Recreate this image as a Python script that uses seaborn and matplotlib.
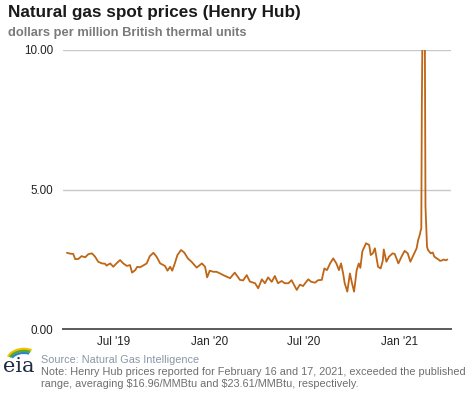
import matplotlib
matplotlib.use("Agg")
import matplotlib.pyplot as plt
from matplotlib.patches import Arc
import pandas as pd
import seaborn as sns

# ---- data ----
dates = [
    "2019-04-03", "2019-04-09", "2019-04-15", "2019-04-19", "2019-04-25", "2019-05-01",
    "2019-05-08", "2019-05-14", "2019-05-21", "2019-05-27", "2019-06-02", "2019-06-09",
    "2019-06-15", "2019-06-18", "2019-06-25", "2019-07-01", "2019-07-07", "2019-07-14",
    "2019-07-20", "2019-07-27", "2019-08-02", "2019-08-06", "2019-08-12", "2019-08-16",
    "2019-08-21", "2019-08-27", "2019-09-03", "2019-09-09", "2019-09-16", "2019-09-22",
    "2019-09-29", "2019-10-08", "2019-10-13", "2019-10-18", "2019-10-22", "2019-10-27",
    "2019-11-01", "2019-11-08", "2019-11-14", "2019-11-21", "2019-11-28", "2019-12-08",
    "2019-12-18", "2019-12-24", "2019-12-28", "2020-01-02", "2020-01-09", "2020-01-15",
    "2020-01-22", "2020-01-28", "2020-02-10", "2020-02-19", "2020-02-29", "2020-03-06",
    "2020-03-13", "2020-03-19", "2020-03-29", "2020-04-04", "2020-04-11", "2020-04-17",
    "2020-04-23", "2020-04-30", "2020-05-06", "2020-05-12", "2020-05-19", "2020-05-25",
    "2020-06-01", "2020-06-07", "2020-06-17", "2020-06-23", "2020-06-29", "2020-07-09",
    "2020-07-15", "2020-07-22", "2020-07-28", "2020-08-04", "2020-08-09", "2020-08-14",
    "2020-08-20", "2020-08-26", "2020-09-01", "2020-09-06", "2020-09-10", "2020-09-14",
    "2020-09-17", "2020-09-22", "2020-09-27", "2020-10-01", "2020-10-05", "2020-10-10",
    "2020-10-14", "2020-10-17", "2020-10-21", "2020-10-28", "2020-11-03", "2020-11-06",
    "2020-11-10", "2020-11-14", "2020-11-20", "2020-11-25", "2020-11-29", "2020-12-01",
    "2020-12-06", "2020-12-11", "2020-12-18", "2020-12-22", "2020-12-29", "2021-01-04",
    "2021-01-10", "2021-01-16", "2021-01-21", "2021-01-28", "2021-02-02", "2021-02-05",
    "2021-02-08", "2021-02-10", "2021-02-11", "2021-02-12", "2021-02-16", "2021-02-17",
    "2021-02-18", "2021-02-19", "2021-02-22", "2021-02-24", "2021-03-01", "2021-03-05",
    "2021-03-08", "2021-03-12", "2021-03-16", "2021-03-19", "2021-03-23", "2021-03-26",
    "2021-03-30", "2021-04-02",
]
prices = [
    2.74, 2.71, 2.70, 2.51, 2.52, 2.62,
    2.58, 2.69, 2.72, 2.60, 2.42, 2.36,
    2.35, 2.28, 2.36, 2.24, 2.36, 2.48,
    2.36, 2.27, 2.30, 2.03, 2.12, 2.24,
    2.22, 2.28, 2.36, 2.62, 2.74, 2.60,
    2.36, 2.27, 2.10, 2.24, 2.10, 2.36,
    2.66, 2.84, 2.75, 2.54, 2.42, 2.21,
    2.36, 2.24, 1.86, 2.10, 2.06, 2.06,
    2.00, 1.94, 1.83, 2.03, 1.77, 1.75,
    1.94, 1.71, 1.65, 1.47, 1.79, 1.65,
    1.86, 1.70, 1.91, 1.65, 1.73, 1.65,
    1.65, 1.76, 1.41, 1.60, 1.55, 1.79,
    1.70, 1.67, 1.76, 1.77, 2.18, 2.12,
    2.36, 2.54, 2.36, 2.12, 2.36, 2.00,
    1.65, 1.35, 2.00, 1.65, 1.35, 2.12,
    2.36, 2.20, 2.80, 3.08, 3.02, 2.66,
    2.72, 2.90, 2.24, 2.18, 2.45, 2.86,
    2.42, 2.60, 2.72, 2.70, 2.36, 2.60,
    2.81, 2.72, 2.42, 2.70, 2.90, 3.20,
    3.38, 3.55, 3.60, 7.90, 16.96, 23.61,
    9.50, 4.40, 2.95, 2.84, 2.72, 2.75,
    2.60, 2.55, 2.50, 2.45, 2.47, 2.50,
    2.47, 2.50,
]
tick_dates = ["2019-07-01", "2020-01-01", "2020-07-01", "2021-01-01"]
tick_labels = ["Jul '19", "Jan '20", "Jul '20", "Jan '21"]
y_ticks = [0, 5, 10]
y_labels = ["0.00", "5.00", "10.00"]

df = pd.DataFrame({"date": pd.to_datetime(dates), "price": prices})

sns.set_theme(style="white")
plt.rcParams["font.family"] = ["Liberation Sans", "DejaVu Sans"]

fig = plt.figure(figsize=(4.77, 3.93), dpi=100)
ax = fig.add_axes([0.1327, 0.162, 0.8128, 0.7108])

line_color = "#BE6516"
sns.lineplot(data=df, x="date", y="price", ax=ax, color=line_color, linewidth=1.3)

ax.set_ylim(0, 10)
ax.set_xlim(pd.Timestamp("2019-03-27"), pd.Timestamp("2021-04-09"))
ax.set_yticks(y_ticks)
ax.set_yticklabels(y_labels)
ax.set_xticks(pd.to_datetime(tick_dates))
ax.set_xticklabels(tick_labels)
ax.set_xlabel("")
ax.set_ylabel("")

for yv in [5, 10]:
    ax.axhline(yv, color="#c8c8c8", linewidth=1.0, zorder=0)

for side in ["top", "right", "left"]:
    ax.spines[side].set_visible(False)
ax.spines["bottom"].set_color("#5a5a5a")
ax.spines["bottom"].set_linewidth(1.4)

ax.tick_params(axis="y", length=0, pad=7, labelsize=8.4, labelcolor="#222222")
ax.tick_params(axis="x", length=3, width=1, color="#5a5a5a", pad=2,
               labelsize=8.4, labelcolor="#222222", direction="out")
ax.grid(False)

# titles
fig.text(8 / 477, 1 - 13 / 393, "Natural gas spot prices (Henry Hub)",
         fontsize=12.3, fontweight="bold", color="#1a1a1a", va="center", ha="left")
fig.text(8 / 477, 1 - 33 / 393, "dollars per million British thermal units",
         fontsize=9.3, fontweight="bold", color="#7a7a7a", va="center", ha="left")

# footer
fig.text(41 / 477, 1 - 360 / 393, "Source: Natural Gas Intelligence",
         fontsize=7.8, color="#8a96a6", va="center", ha="left")
fig.text(41 / 477, 1 - 372 / 393,
         "Note: Henry Hub prices reported for February 16 and 17, 2021, exceeded the published",
         fontsize=7.8, color="#6e6e6e", va="center", ha="left")
fig.text(41 / 477, 1 - 384 / 393,
         "range, averaging \\$16.96/MMBtu and \\$23.61/MMBtu, respectively.",
         fontsize=7.8, color="#6e6e6e", va="center", ha="left")

# eia logo
fig.text(3 / 477, 1 - 366 / 393, "eia", fontsize=15, family="DejaVu Serif",
         color="#1f2a44", va="center", ha="left")
lax = fig.add_axes([3 / 477, 1 - 360 / 393, 34 / 477, 18 / 393])
lax.set_xlim(0, 34)
lax.set_ylim(0, 18)
lax.axis("off")
for (r, c, lw) in [(15, "#f2c400", 1.8), (13, "#5aa832", 1.8), (11, "#2f80c8", 1.5)]:
    lax.add_patch(Arc((21, -1), 2 * r + 4, 2 * r - 6, theta1=55, theta2=165,
                      color=c, linewidth=lw))

fig.savefig("out.png", dpi=100)
